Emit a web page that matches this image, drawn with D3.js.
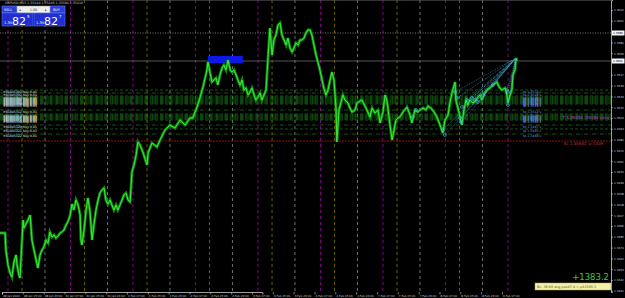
<!DOCTYPE html>
<html>
<head>
<meta charset="utf-8">
<script src="https://cdn.jsdelivr.net/npm/d3@7/dist/d3.min.js"></script>
<style>
body{margin:0;background:#000;}
svg{display:block;}
text{font-family:"DejaVu Sans",sans-serif;}
</style>
</head>
<body>
<div id="chart"></div>
<script>
// GBPUSD,M15 - trading hours counted from 28 Jan 07:00 (weekend skipped)
const barHours = [-0.8,1.2,1.5,2.3,3.1,3.8,4.6,5.4,5.8,6.5,6.9,7.7,8.1,8.4,10.0,10.8,11.5,12.3,13.1,13.8,14.6,15.4,16.1,16.9,17.7,18.4,19.2,20.0,20.7,21.5,22.3,23.0,23.8,24.6,25.3,26.1,26.9,27.6,28.4,29.2,30.0,30.3,30.7,31.5,32.3,33.0,33.8,34.6,35.3,36.1,36.9,37.6,38.4,39.2,39.9,40.7,41.5,42.2,43.0,43.8,44.5,45.3,46.1,46.8,47.6,48.4,49.2,49.9,50.7,51.5,52.2,53.0,54.1,55.7,56.1,57.6,59.5,60.7,62.6,64.5,66.4,68.4,70.3,72.2,73.3,74.9,76.0,77.2,78.7,79.1,80.6,82.2,82.9,83.7,84.5,85.2,86.0,86.8,87.6,88.3,89.1,89.9,90.6,91.4,92.2,92.9,93.7,94.5,95.2,96.0,96.8,97.5,98.3,99.1,99.8,100.6,101.4,102.1,102.9,103.7,104.4,105.2,106.0,106.8,107.5,108.3,109.1,109.8,110.6,111.4,112.1,112.9,113.7,114.4,115.2,116.0,116.7,117.5,118.3,119.0,119.8,120.6,121.3,122.1,122.9,123.6,124.4,125.2,126.0,126.7,127.5,128.3,128.6,129.4,130.9,131.7,132.9,133.6,134.4,135.6,136.3,138.2,139.8,141.3,142.1,143.2,144.4,145.2,146.3,147.1,147.8,149.0,149.8,151.3,152.1,152.8,154.0,155.5,156.7,157.4,158.6,159.7,160.5,161.7,162.8,163.6,164.7,165.9,167.0,168.2,169.3,170.1,171.3,172.0,172.8,174.0,174.3,175.1,175.9,176.6,177.4,178.2,178.9,179.7,180.9,182.0,182.8,183.6,184.3,185.5,186.2,187.4,188.6,190.1,190.5,191.2,192.0,193.2,193.9,194.3,195.1,195.8,196.2,197.0,197.4,197.8];
const closes = [1.3389,1.3389,1.3372,1.3357,1.3349,1.3345,1.3360,1.3367,1.3357,1.3347,1.3344,1.3382,1.3402,1.3394,1.3402,1.3407,1.3382,1.3372,1.3362,1.3354,1.3367,1.3372,1.3375,1.3382,1.3379,1.3390,1.3385,1.3387,1.3384,1.3386,1.3389,1.3390,1.3392,1.3397,1.3400,1.3406,1.3418,1.3412,1.3422,1.3417,1.3407,1.3382,1.3377,1.3392,1.3412,1.3424,1.3410,1.3382,1.3397,1.3412,1.3422,1.3429,1.3432,1.3434,1.3422,1.3418,1.3422,1.3417,1.3412,1.3417,1.3412,1.3417,1.3422,1.3427,1.3429,1.3422,1.3420,1.3450,1.3457,1.3467,1.3480,1.3477,1.3470,1.3457,1.3469,1.3479,1.3475,1.3482,1.3492,1.3497,1.3494,1.3502,1.3497,1.3504,1.3504,1.3515,1.3524,1.3535,1.3552,1.3560,1.3540,1.3544,1.3537,1.3547,1.3554,1.3557,1.3552,1.3562,1.3552,1.3550,1.3552,1.3547,1.3542,1.3537,1.3542,1.3532,1.3534,1.3527,1.3530,1.3534,1.3527,1.3522,1.3525,1.3529,1.3522,1.3527,1.3532,1.3562,1.3594,1.3567,1.3582,1.3587,1.3597,1.3599,1.3587,1.3582,1.3577,1.3584,1.3574,1.3570,1.3574,1.3579,1.3577,1.3582,1.3582,1.3584,1.3589,1.3592,1.3592,1.3587,1.3577,1.3567,1.3560,1.3552,1.3542,1.3534,1.3527,1.3532,1.3542,1.3550,1.3542,1.3512,1.3480,1.3512,1.3527,1.3522,1.3519,1.3514,1.3510,1.3512,1.3519,1.3522,1.3514,1.3505,1.3514,1.3509,1.3512,1.3499,1.3510,1.3527,1.3522,1.3497,1.3482,1.3502,1.3504,1.3505,1.3510,1.3515,1.3507,1.3499,1.3512,1.3510,1.3512,1.3514,1.3512,1.3516,1.3514,1.3510,1.3505,1.3497,1.3489,1.3502,1.3507,1.3519,1.3529,1.3540,1.3522,1.3514,1.3505,1.3497,1.3512,1.3522,1.3517,1.3522,1.3519,1.3522,1.3525,1.3527,1.3522,1.3529,1.3532,1.3534,1.3537,1.3540,1.3537,1.3534,1.3532,1.3534,1.3527,1.3519,1.3527,1.3532,1.3547,1.3552,1.3564,1.3561];

const priceTicks = [1.36120,1.36012,1.35904,1.35796,1.35688,1.35580,1.35472,1.35364,1.35256,1.35148,1.35040,1.34932,1.34824,1.34716,1.34608,1.34500,1.34392,1.34284,1.34176,1.34068,1.33960,1.33852,1.33744,1.33636,1.33528,1.33420,1.33312];
const timeLabels = ["28 Jan 2022","28 Jan 15:00","28 Jan 23:00","31 Jan 07:00","31 Jan 15:00","31 Jan 23:00","1 Feb 07:00","1 Feb 15:00","1 Feb 23:00","2 Feb 07:00","2 Feb 15:00","2 Feb 23:00","3 Feb 07:00","3 Feb 15:00","3 Feb 23:00","4 Feb 07:00","4 Feb 15:00","4 Feb 23:00","7 Feb 07:00","7 Feb 15:00","7 Feb 23:00","8 Feb 07:00","8 Feb 15:00","8 Feb 23:00","9 Feb 07:00"];
const labelHours = timeLabels.map((d, i) => i * 8);

// session separators, broker hour of day
const sessionHours = [9.3, 14.7, 23.5];
const sessionColors = ["#9a0a9a", "#7d7d00", "#8c8c8c"];
const tradingDays = 9;

// open buy orders (grid)
const orderPrices = [1.3532,1.3529,1.3526,1.3525,1.3524,1.3523,1.3522,1.3521,1.3520,1.3519,1.3518,1.3512,1.3508,1.3507,1.3506,1.3505,1.3504,1.3503,1.3502,1.3497,1.3493,1.3488];
const orderTickets = [81045301,81045302,81045303,81045304,81045305,81045306,81045307,81045308,81045309,81045310,81045311,81045312,81045313,81045314,81045315,81045316,81045317,81045318,81045319,81045320,81045321,81045322];

// entry markers feeding the fan
const markHours = [157.8,159.0,169.3,170.1,174.0,174.7,175.9,176.3,176.6,178.6,180.5,181.6,182.8,184.7,188.5,193.9,194.3,194.3];
const markPrices = [1.3505,1.3512,1.3492,1.3487,1.3530,1.3524,1.3504,1.3500,1.3515,1.3522,1.3524,1.3522,1.3520,1.3527,1.3537,1.3532,1.3517,1.3530];

const bidPrice = 1.3561, askPrice = 1.3589, stopPrice = 1.3481, avgPrice = 1.3505;
const boxHours = [79.1, 92.5], boxPrices = [1.3566, 1.3559];

const W = 625, H = 298, plotW = 611, plotH = 292;

const svg = d3.select("#chart").append("svg").attr("width", W).attr("height", H);
svg.append("rect").attr("width", W).attr("height", H).attr("fill", "#000");

const x = d3.scaleLinear().domain([0, 100]).range([2, 262.4]);
const y = d3.scaleLinear().domain([1.3622, 1.3330]).range([0, 292]);

svg.append("clipPath").attr("id", "plot").append("rect").attr("width", plotW).attr("height", plotH);
const g = svg.append("g").attr("clip-path", "url(#plot)");

// session lines
for (let d = 0; d < tradingDays; d++) {
  sessionHours.forEach((h, k) => {
    const xv = x(d * 24 + h - 7);
    if (xv > 512) return;
    g.append("line").attr("x1", xv).attr("x2", xv).attr("y1", 0).attr("y2", plotH)
      .attr("stroke", sessionColors[k]).attr("stroke-width", 0.8).attr("stroke-dasharray", "3,3");
  });
}

// order lines
g.selectAll(".ord").data(orderPrices).enter().append("line")
  .attr("x1", 0).attr("x2", plotW).attr("y1", d => y(d)).attr("y2", d => y(d))
  .attr("stroke", "#1f8a1f").attr("stroke-width", 0.8).attr("stroke-opacity", 0.75)
  .attr("stroke-dasharray", (d, i) => i % 2 ? "4,1.5,1,1.5" : "3,2");

// ask / bid / stop
g.append("line").attr("x1", 0).attr("x2", plotW).attr("y1", y(askPrice)).attr("y2", y(askPrice))
  .attr("stroke", "#9a9a9a").attr("stroke-width", 0.8).attr("stroke-dasharray", "1,1.5");
g.append("line").attr("x1", 0).attr("x2", plotW).attr("y1", y(bidPrice)).attr("y2", y(bidPrice))
  .attr("stroke", "#6a6a6a").attr("stroke-width", 0.8);
g.append("line").attr("x1", 0).attr("x2", plotW).attr("y1", y(stopPrice)).attr("y2", y(stopPrice))
  .attr("stroke", "#b01212").attr("stroke-width", 0.8).attr("stroke-dasharray", "2,1");

// blue box at the first top
g.append("rect").attr("x", x(boxHours[0])).attr("y", y(boxPrices[0]))
  .attr("width", x(boxHours[1]) - x(boxHours[0])).attr("height", y(boxPrices[1]) - y(boxPrices[0]))
  .attr("fill", "#0c18e8");

// price
const pts = barHours.map((h, i) => [h, closes[i]]);
const line = d3.line().x(d => x(d[0])).y(d => y(d[1]));
g.append("path").attr("d", line(pts)).attr("fill", "none").attr("stroke", "#0d8a0d").attr("stroke-width", 2.8);
g.append("path").attr("d", line(pts)).attr("fill", "none").attr("stroke", "#3ee83e").attr("stroke-width", 1);

// fan lines to the last bar
const apex = [barHours[barHours.length - 2], closes[closes.length - 2]];
markHours.forEach((h, i) => {
  if (h < 169) return;
  g.append("line").attr("x1", x(h)).attr("y1", y(markPrices[i])).attr("x2", x(apex[0])).attr("y2", y(apex[1]))
    .attr("stroke", "#3aa6c8").attr("stroke-width", 0.6).attr("stroke-dasharray", "1,1");
});
g.selectAll(".mk").data(markHours).enter().append("circle")
  .attr("cx", d => x(d)).attr("cy", (d, i) => y(markPrices[i])).attr("r", 1.4)
  .attr("fill", "none").attr("stroke", "#45c0e8").attr("stroke-width", 0.7);

// order labels left and right
g.selectAll(".ol").data(orderPrices).enter().append("text")
  .attr("x", 3).attr("y", d => y(d) + 2.5).attr("font-size", 3.2).attr("fill", "#e6e6e6")
  .text((d, i) => "#" + orderTickets[i] + " buy 0.01");
g.selectAll(".or").data(orderPrices).enter().append("text")
  .attr("x", 523).attr("y", d => y(d) + 2.5).attr("font-size", 3.2).attr("fill", "#6f9fe0")
  .text(d => "tp " + d.toFixed(4) + " s");

g.append("text").attr("x", 609).attr("y", y(avgPrice) + 1.5).attr("text-anchor", "end")
  .attr("font-size", 4).attr("fill", "#a846c8").text("T 1.35046, 35046 Long");
g.append("text").attr("x", 603).attr("y", y(stopPrice) + 4).attr("text-anchor", "end")
  .attr("font-size", 4).attr("fill", "#c83030").text("SL 1.34642, p-1309");

// profit
g.append("text").attr("x", 609).attr("y", 280).attr("text-anchor", "end")
  .attr("font-size", 8.5).attr("fill", "#3ccc3c").text("+1383.2");
g.append("rect").attr("x", 535).attr("y", 283).attr("width", 76).attr("height", 7)
  .attr("fill", "#f4f0a8").attr("stroke", "#b0a860").attr("stroke-width", 0.5);
g.append("text").attr("x", 537).attr("y", 288.3).attr("font-size", 3.4).attr("fill", "#5a5a20")
  .text("BL: 36.68 avg pos47.4 = p41505.3");

// axes
const tagPrices = [askPrice, bidPrice];
const yTicks = priceTicks.filter(p => tagPrices.every(t => Math.abs(y(p) - y(t)) > 4));
const yAxis = d3.axisRight(y).tickValues(yTicks).tickFormat(d3.format(".4f")).tickSize(2).tickPadding(1);
const ya = svg.append("g").attr("transform", `translate(${plotW},0)`).call(yAxis);
const xAxis = d3.axisBottom(x).tickValues(labelHours).tickFormat((d, i) => timeLabels[i]).tickSize(2.5).tickPadding(0.5);
const xa = svg.append("g").attr("transform", `translate(0,${plotH})`).call(xAxis);
[ya, xa].forEach(a => {
  a.select(".domain").attr("stroke", "#c8c8c8").attr("stroke-width", 0.8);
  a.selectAll(".tick line").attr("stroke", "#c8c8c8").attr("stroke-width", 0.6);
  a.selectAll("text").attr("fill", "#c8c8c8").attr("font-size", 2.8).attr("font-family", "DejaVu Sans");
});
xa.selectAll("text").attr("text-anchor", "start").attr("dx", 0.5);
svg.append("line").attr("x1", 0).attr("x2", plotW).attr("y1", 0.5).attr("y2", 0.5).attr("stroke", "#555").attr("stroke-width", 0.6);

// current price tags
tagPrices.forEach(p => {
  svg.append("rect").attr("x", plotW + 1).attr("y", y(p) - 2.5).attr("width", 12.5).attr("height", 5).attr("fill", "#f2f2f2");
  svg.append("text").attr("x", plotW + 2).attr("y", y(p) + 1.1).attr("font-size", 2.8).attr("fill", "#000").text(p.toFixed(4));
});

// header + one-click panel
svg.append("text").attr("x", 5).attr("y", 4.2).attr("font-size", 3.2).attr("fill", "#c0c0c0")
  .text("GBPUSD,M15  1.35640 1.35648 1.35596 1.35610");
const panel = svg.append("g");
panel.append("rect").attr("x", 2).attr("y", 6).attr("width", 15).attr("height", 7).attr("fill", "#2b3fd8").attr("stroke", "#7f8cff").attr("stroke-width", 0.5);
panel.append("rect").attr("x", 50).attr("y", 6).attr("width", 15).attr("height", 7).attr("fill", "#2b3fd8").attr("stroke", "#7f8cff").attr("stroke-width", 0.5);
panel.append("rect").attr("x", 17).attr("y", 6).attr("width", 33).attr("height", 7).attr("fill", "#eeeeee").attr("stroke", "#8a8a8a").attr("stroke-width", 0.5);
panel.append("text").attr("x", 4).attr("y", 11).attr("font-size", 3.4).attr("fill", "#fff").text("SELL");
panel.append("text").attr("x", 53).attr("y", 11).attr("font-size", 3.4).attr("fill", "#fff").text("BUY");
panel.append("text").attr("x", 19).attr("y", 11).attr("font-size", 3.4).attr("fill", "#333").text("◂");
panel.append("text").attr("x", 33.5).attr("y", 11).attr("font-size", 3.4).attr("fill", "#333").attr("text-anchor", "middle").text("1.00");
panel.append("text").attr("x", 45).attr("y", 11).attr("font-size", 3.4).attr("fill", "#333").text("▸");
[[2, "5"], [34, "7"]].forEach(([px, sup]) => {
  panel.append("rect").attr("x", px).attr("y", 13).attr("width", 31).attr("height", 13).attr("fill", "#1f2fd2").attr("stroke", "#6f7cff").attr("stroke-width", 0.5);
  panel.append("text").attr("x", px + 2).attr("y", 23.5).attr("font-size", 3.6).attr("fill", "#fff").text("1.35");
  panel.append("text").attr("x", px + 10).attr("y", 24.5).attr("font-size", 11).attr("fill", "#fff").text("82");
  panel.append("text").attr("x", px + 25).attr("y", 18).attr("font-size", 4).attr("fill", "#fff").text(sup);
});
</script>
</body>
</html>
